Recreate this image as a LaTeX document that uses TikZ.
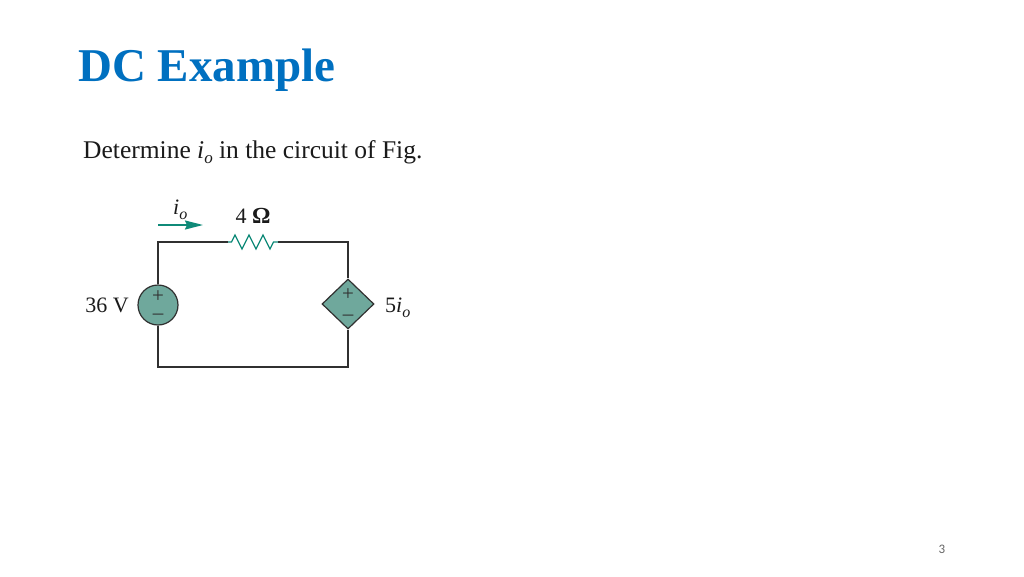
\documentclass[tikz,border=0pt]{standalone}
\usepackage{fontspec}
\setmainfont{Liberation Serif}
\newfontfamily\pagefont{Carlito}
\usetikzlibrary{shapes.geometric,arrows.meta}
\definecolor{titleblue}{HTML}{0070C0}
\definecolor{teal}{HTML}{0F8A78}
\definecolor{srcfill}{HTML}{6FA89C}
\definecolor{wire}{HTML}{303030}
\definecolor{inktext}{HTML}{1A1A1A}
\newcommand{\fsz}[1]{\fontsize{#1}{#1}\selectfont}
\tikzset{
  x=1pt,y=-1pt,
  wirepath/.style={draw=wire,line width=1.2pt},
  srcshape/.style={draw=wire,line width=1.2pt,fill=srcfill,inner sep=0pt},
  lab/.style={text=inktext,inner sep=0pt,font=\fsz{22}},
  sign/.style={text=wire,inner sep=0pt,align=center},
}
\begin{document}
\begin{tikzpicture}
\useasboundingbox (0,0) rectangle (1024,576);
\fill[white] (0,0) rectangle (1024,576);
\node[anchor=base west,inner sep=0pt,text=titleblue,font=\fsz{47}\bfseries] (title) at (78,81) {DC Example};
\node[anchor=base west,inner sep=0pt,text=inktext,font=\fsz{25.5}] (prompt) at (83,158) {Determine \textit{i}\raisebox{-0.2em}{\fsz{17}\textit{o}} in the circuit of Fig.};
\node[anchor=base,inner sep=0pt,text=black!60,font=\pagefont\fsz{13}] (pg) at (942,553) {3};
% circuit
\node[circle,srcshape,minimum size=40pt] (vs) at (158,305) {};
\node[diamond,srcshape,minimum width=52pt,minimum height=50pt] (ds) at (348,304) {};
\coordinate (tl) at (158,242);
\coordinate (tr) at (348,242);
\coordinate (bl) at (158,367);
\coordinate (br) at (348,367);
\coordinate (ra) at (228,242);
\coordinate (rb) at (278,242);
\draw[wirepath] (vs.north) -- (tl) -- (ra);
\draw[wirepath] (rb) -- (tr) -- (ds.north);
\draw[wirepath] (vs.south) -- (bl) -- (br) -- (ds.south);
\draw[teal,line width=1.2pt,line join=miter] (ra) -- ++(3.5,0) -- ++(3.5,-7) -- ++(7,14) -- ++(7,-14) -- ++(7,14) -- ++(7,-14) -- ++(7,14) -- ++(3.5,-7) -- (rb);
\coordinate (aa) at (158,225);
\coordinate (ab) at (203,225);
\draw[teal,line width=1.6pt,-{Stealth[length=18pt,width=9pt,inset=2pt]}] (aa) -- (ab);
\node[sign,font=\fontsize{21}{17}\selectfont] (vsign) at (158,305.5) {+\\\char"2013};
\node[sign,font=\fontsize{21}{20}\selectfont] (dsign) at (348,304.5) {+\\\char"2013};
\node[lab,anchor=base west] (rl) at (235.5,223) {4 \textbf{\fsz{23}Ω}};
\node[lab,anchor=base east] (vl) at (129,312) {36 V};
\node[lab,anchor=base west] (dl) at (385,312) {5\textit{i}\raisebox{-0.25em}{\fsz{16}\textit{o}}};
\node[lab,anchor=base west] (il) at (173,214) {\textit{i}\raisebox{-0.25em}{\fsz{16}\textit{o}}};
\end{tikzpicture}
\end{document}
